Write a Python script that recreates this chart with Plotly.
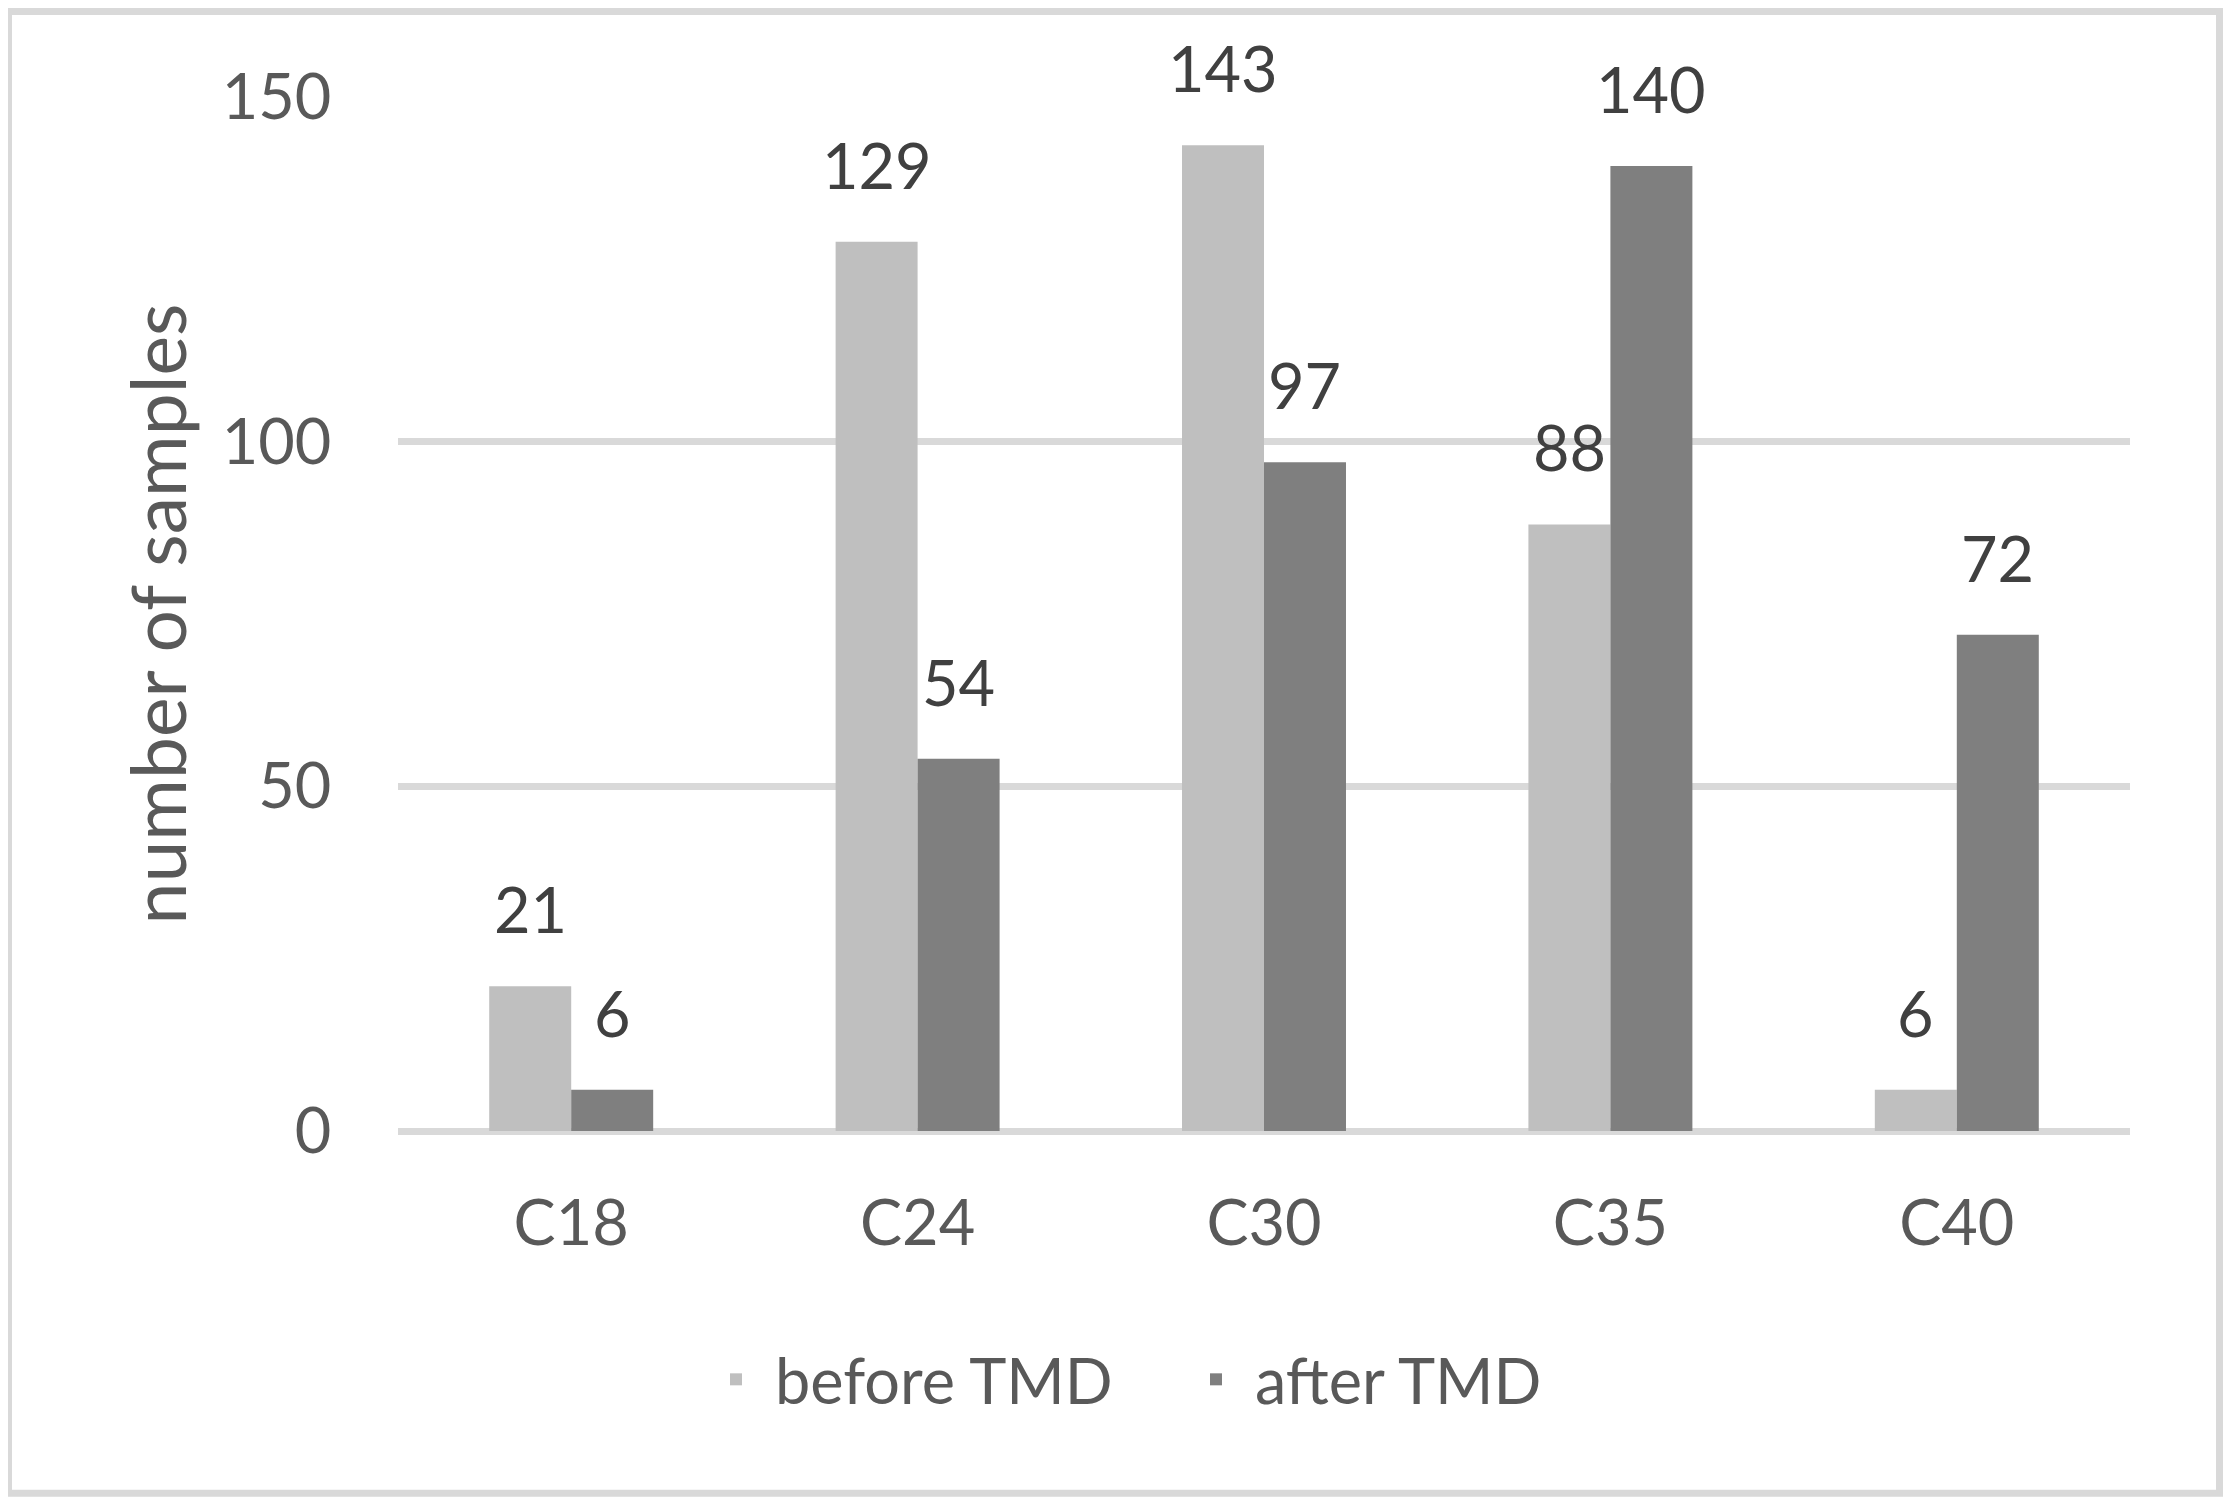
import plotly.graph_objects as go

categories = ["C18", "C24", "C30", "C35", "C40"]
before_tmd = [21, 129, 143, 88, 6]
after_tmd = [6, 54, 97, 140, 72]
series_names = ["before TMD", "after TMD"]
series_colors = ["#bfbfbf", "#7f7f7f"]
y_ticks = [0, 50, 100, 150]

# page body has an 8px margin; compensate so the picture lines up with the page
OFF = 8
W, H = 2231 - OFF, 1509 - OFF
L = 398 - OFF
T = 97 - OFF
PR = 2130 - OFF          # plot right edge (figure px)
PB = 1131.5 - OFF        # plot bottom edge (figure px)
R = W - PR
B = H - PB
plot_w = PR - L
plot_h = PB - T

FONT = "Lato"
TXT = "#595959"
LBL = "#404040"
FS = 63

fig = go.Figure()
series = [before_tmd, after_tmd]
for name, vals, col in zip(series_names, series, series_colors):
    fig.add_trace(go.Bar(
        x=categories, y=vals, name=name,
        marker=dict(color=col, line=dict(width=0)),
        hoverinfo="x+y",
    ))

bargap = 0.5266
cat_px = plot_w / len(categories)
bar_px = cat_px * (1 - bargap) / 2

annotations = []
for i, vals in enumerate(series):
    shift = (i - 0.5) * bar_px
    for c, v in zip(categories, vals):
        annotations.append(dict(
            x=c, y=v, xref="x", yref="y", text=str(v), showarrow=False,
            xshift=shift, yshift=38, yanchor="bottom", xanchor="center",
            font=dict(family=FONT, size=FS, color=LBL),
        ))

def px_to_paper_x(px):
    return (px - OFF - L) / plot_w

def px_to_paper_y(py):
    return (PB - (py - OFF)) / plot_h

fig.add_shape(
    type="rect", xref="paper", yref="paper",
    x0=px_to_paper_x(8.5), x1=px_to_paper_x(2219.5),
    y0=px_to_paper_y(1494), y1=px_to_paper_y(11.5),
    line=dict(color="#d9d9d9", width=7), fillcolor="rgba(0,0,0,0)", layer="below",
)

fig.update_layout(
    width=W, height=H,
    margin=dict(l=L, r=R, t=T, b=B, autoexpand=False),
    paper_bgcolor="white", plot_bgcolor="white",
    barmode="group", bargap=bargap, bargroupgap=0,
    font=dict(family=FONT, size=FS, color=TXT),
    showlegend=True,
    legend=dict(
        orientation="h", x=px_to_paper_x(697), xanchor="left",
        y=px_to_paper_y(1380), yanchor="middle",
        font=dict(family=FONT, size=FS, color=TXT),
        itemwidth=68, entrywidth=397, entrywidthmode="pixels",
        bgcolor="rgba(0,0,0,0)",
    ),
    annotations=annotations,
    xaxis=dict(
        type="category", showgrid=False, showline=False, zeroline=False,
        ticks="outside", ticklen=37, tickcolor="rgba(0,0,0,0)",
        tickfont=dict(family=FONT, size=FS, color=TXT),
        automargin=False,
    ),
    yaxis=dict(
        range=[0, 150], tickvals=y_ticks, ticktext=[str(t) for t in y_ticks],
        showgrid=True, gridcolor="#d9d9d9", gridwidth=7,
        zeroline=True, zerolinecolor="#d9d9d9", zerolinewidth=7,
        showline=False,
        ticks="outside", ticklen=53, tickcolor="rgba(0,0,0,0)",
        tickfont=dict(family=FONT, size=FS, color=TXT),
        title=dict(text="number of samples", font=dict(family=FONT, size=75, color=TXT), standoff=10),
        automargin=False,
    ),
)

fig.write_html("out.html")
